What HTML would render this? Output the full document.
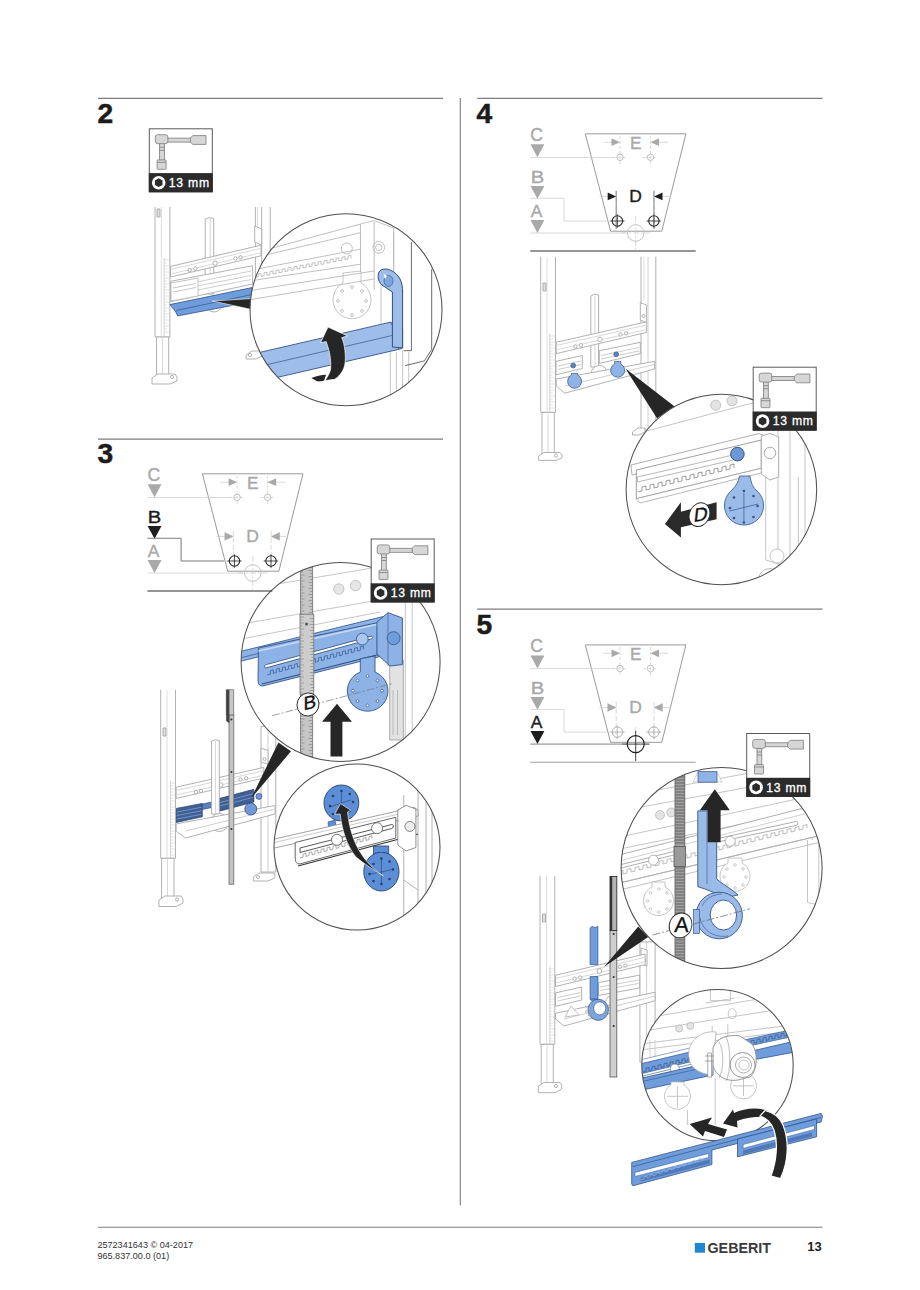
<!DOCTYPE html>
<html><head><meta charset="utf-8">
<style>
html,body{margin:0;padding:0;background:#fff;}
body{width:920px;height:1290px;overflow:hidden;position:relative;font-family:"Liberation Sans",sans-serif;}
svg{position:absolute;left:0;top:0;}
text{font-family:"Liberation Sans",sans-serif;}
</style></head><body>
<svg width="920" height="1290" viewBox="0 0 920 1290">
<defs>
  <!-- tool box 64x64 -->
  <g id="tool">
    <rect x="0.5" y="0.5" width="63" height="63" fill="#fff" stroke="#5a5a5a" stroke-width="1"/>
    <rect x="0" y="44.8" width="64" height="19.2" fill="#2b2b2b"/>
    <g fill="#d6d6d6" stroke="#7c7c7c" stroke-width="0.8">
      <rect x="10.8" y="15" width="4.8" height="17" />
      <path d="M10.8 19 h4.8 M10.8 22 h4.8" />
      <rect x="8.3" y="31.6" width="9" height="9.4" rx="0.8"/>
      <path d="M8.3 34 h9"/>
      <rect x="18.5" y="9.8" width="23.5" height="4" />
      <path d="M41.5 9.8 L44 7.3 L57.2 7.3 L57.2 16.1 L44 16.1 L41.5 13.8 Z"/>
      <rect x="6.5" y="6.4" width="12.6" height="9" rx="2.4"/>
    </g>
    <circle cx="9.9" cy="54.4" r="6.8" fill="#fff"/>
    <path d="M9.9 50 L13.7 52.2 L13.7 56.6 L9.9 58.8 L6.1 56.6 L6.1 52.2 Z" fill="#2b2b2b"/>
    <text x="20" y="58.6" font-size="12.2" fill="#fff" stroke="#fff" stroke-width="0.3" letter-spacing="0.75">13 mm</text>
  </g>
  <!-- dimension diagram, origin at trapezoid top-left -->
  <g id="diag">
    <path d="M0 0 L100.6 0 L76.5 97.4 L25.3 97.4 Z" fill="none" stroke="#9a9a9a" stroke-width="1"/>
    <g stroke="#cfcfcf" stroke-width="0.8" fill="none">
      <line x1="-55" y1="23.7" x2="30" y2="23.7"/>
      <line x1="-55" y1="99.2" x2="40" y2="99.2"/>
      <path d="M-55 64.5 L-21.3 64.5 L-21.3 87.2 L21.7 87.2"/>
      <line x1="34.7" y1="2" x2="34.7" y2="32" stroke-dasharray="3 2"/>
      <line x1="65.2" y1="2" x2="65.2" y2="32" stroke-dasharray="3 2"/>
      <line x1="30.9" y1="57" x2="30.9" y2="95" stroke-dasharray="5 2"/>
      <line x1="68.7" y1="57" x2="68.7" y2="95" stroke-dasharray="5 2"/>
      <line x1="50.4" y1="82" x2="50.4" y2="117" stroke-dasharray="6 2 2 2"/>
      <line x1="36" y1="99.2" x2="65" y2="99.2" stroke-dasharray="6 2 2 2"/>
      <line x1="27" y1="23.7" x2="42" y2="23.7" stroke-dasharray="3 2"/>
      <line x1="58" y1="23.7" x2="73" y2="23.7" stroke-dasharray="3 2"/>
      <line x1="24" y1="87.2" x2="40" y2="87.2" stroke-dasharray="4 2"/>
      <line x1="60" y1="87.2" x2="77" y2="87.2" stroke-dasharray="4 2"/>
      <line x1="17.9" y1="8.4" x2="30" y2="8.4"/>
      <line x1="70" y1="8.4" x2="82.6" y2="8.4"/>
      <line x1="14" y1="62.6" x2="26" y2="62.6"/>
      <line x1="74" y1="62.6" x2="86" y2="62.6"/>
    </g>
    <g fill="none" stroke="#b5b5b5" stroke-width="0.9">
      <circle cx="34.7" cy="23.5" r="3.2"/>
      <circle cx="65.2" cy="23.5" r="3.2"/>
    </g>
    <g fill="#a9a9a9">
      <path d="M34.7 8.4 L26.2 4.5 L26.2 12.3 Z"/>
      <path d="M65.2 8.4 L73.7 4.5 L73.7 12.3 Z"/>
      <text x="44.6" y="14.9" font-size="17.2" stroke="#a9a9a9" stroke-width="0.4">E</text>
      <text x="-55" y="7.0" font-size="17.6" stroke="#a9a9a9" stroke-width="0.4">C</text>
      <path d="M-54.8 10.5 L-40.9 10.5 L-47.85 23.5 Z"/>
    </g>
  </g>
  <g id="dGray" fill="#a9a9a9" stroke="#a9a9a9" stroke-width="0.4">
    <path d="M30.9 62.6 L22.4 58.7 L22.4 66.5 Z"/>
    <path d="M68.7 62.6 L77.2 58.7 L77.2 66.5 Z"/>
    <text x="43.9" y="67.9" font-size="17.4" stroke-width="0.4">D</text>
  </g>
  <g id="dBlack" fill="#1e1e1e" stroke="#1e1e1e" stroke-width="0">
    <path d="M30.9 62.6 L22.4 58.7 L22.4 66.5 Z"/>
    <path d="M68.7 62.6 L77.2 58.7 L77.2 66.5 Z"/>
    <text x="43.9" y="67.9" font-size="17.4" stroke-width="0.4">D</text>
  </g>
  <g id="bGray" fill="#a9a9a9" stroke="#a9a9a9" stroke-width="0">
    <text transform="translate(-54.6 48.9) scale(1.16 1)" font-size="17.4" stroke-width="0.4">B</text>
    <path d="M-54.8 52.2 L-40.9 52.2 L-47.85 64.9 Z"/>
  </g>
  <g id="bBlack" fill="#1e1e1e" stroke="#1e1e1e" stroke-width="0">
    <text transform="translate(-54.6 48.9) scale(1.16 1)" font-size="17.4" stroke-width="0.4">B</text>
    <path d="M-54.8 52.2 L-40.9 52.2 L-47.85 64.9 Z"/>
  </g>
  <g id="aGray" fill="#a9a9a9" stroke="#a9a9a9" stroke-width="0">
    <text x="-54.6" y="83.5" font-size="17.4" stroke-width="0.4">A</text>
    <path d="M-54.8 86.2 L-40.9 86.2 L-47.85 99.2 Z"/>
  </g>
  <g id="aBlack" fill="#1e1e1e" stroke="#1e1e1e" stroke-width="0">
    <text x="-54.6" y="83.5" font-size="17.4" stroke-width="0.4">A</text>
    <path d="M-54.8 86.2 L-40.9 86.2 L-47.85 99.2 Z"/>
  </g>
  <g id="holesDark" fill="none" stroke="#2a2a2a" stroke-width="1.1">
    <circle cx="32.1" cy="87.2" r="5.2"/>
    <circle cx="68.6" cy="87.2" r="5.2"/>
    <path d="M25 87.2 H39 M32.1 80.5 V94 M61.5 87.2 H75.5 M68.6 80.5 V94" stroke-width="0.8"/>
  </g>
  <g id="holesGray" fill="none" stroke="#b0b0b0" stroke-width="1">
    <circle cx="32.1" cy="87.2" r="5.2"/>
    <circle cx="68.6" cy="87.2" r="5.2"/>
    <path d="M25 87.2 H39 M32.1 80.5 V94 M61.5 87.2 H75.5 M68.6 80.5 V94" stroke-width="0.7"/>
  </g>
  <g id="bigGray" fill="none" stroke="#c4c4c4" stroke-width="1">
    <circle cx="50.4" cy="99.2" r="8.3"/>
  </g>
  <g id="bigDark" fill="none" stroke="#1e1e1e" stroke-width="1.2">
    <circle cx="50.4" cy="99.2" r="8.5"/>
    <path d="M50.4 86 V116 M37 99.2 H64" stroke-width="0.8"/>
  </g>
  <g id="tri"><path d="M-54.8 0 L-40.9 0 L-47.85 13 Z"/></g>
</defs>


<!-- ===== SECTION 2 illustration ===== -->
<g id="s2frame" fill="#fff" stroke="#a9a9a9" stroke-width="0.9" stroke-linejoin="round">
  <!-- right post (behind) -->
  <path d="M255.4 207 V300 M261.7 207 V300 M270.2 207 V300" />
  <path d="M257.5 207 V226" stroke="#d4d4d4"/>
  <path d="M254.7 226 L261.7 229 V245 L254.7 242 Z"/>
  <!-- middle post -->
  <path d="M205.2 219 L209 217.7 L213.7 218.5 V294 H205.2 Z"/>
  <path d="M210.2 219 V292" stroke="#d0d0d0"/>
  <!-- upper crossbar -->
  <path d="M170.6 266.4 L261 245.2 L261 255.8 L170.6 277 Z"/>
  <path d="M170.6 269.5 L261 248.3 M170.6 274 L261 252.8" stroke="#d4d4d4"/>
  <circle cx="189.7" cy="270" r="1.7"/><circle cx="195.3" cy="268.6" r="1.7"/>
  <circle cx="235.6" cy="258.5" r="1.7"/><circle cx="240.6" cy="257.3" r="1.7"/>
  <circle cx="215.1" cy="263.2" r="2.2"/>
  <!-- lower rail -->
  <path d="M170.6 281.3 L252.6 265.7 L252.6 284 L170.6 301.7 Z"/>
  <path d="M172 287 L251 271 M172 291 L251 275.5 M172 295 L251 279.5" stroke="#c8c8c8"/>
  <path d="M171 283 L198 278 V296 L171 301 Z" stroke="#bdbdbd"/>
  <path d="M173 288 L196 283.5 M173 292 L196 287.5" stroke="#9e9e9e" stroke-width="0.6"/>
  <!-- roller wheel -->
  <circle cx="214" cy="304" r="8"/>
  <!-- left post upper -->
  <path d="M155 207 V337 H169.9 V207"/>
  <path d="M161.4 207 V337" stroke="#dadada"/>
  <path d="M157 209 h3 v8 h-3 z" stroke="#a8a8a8" fill="#ddd"/>
  <path d="M164.2 258 V336" stroke="#cfcfcf"/>
  <path d="M164.2 260 h5 M164.2 263 h3 M164.2 266 h5 M164.2 269 h3 M164.2 272 h5 M164.2 275 h3 M164.2 278 h5 M164.2 281 h3 M164.2 284 h5 M164.2 287 h3 M164.2 290 h5 M164.2 293 h3 M164.2 296 h5 M164.2 299 h3 M164.2 302 h5 M164.2 305 h3 M164.2 308 h5 M164.2 311 h3 M164.2 314 h5 M164.2 317 h3 M164.2 320 h5 M164.2 323 h3 M164.2 326 h5 M164.2 329 h3 M164.2 332 h5" stroke="#c4c4c4" stroke-width="0.5"/>
  <!-- lower leg -->
  <path d="M156.5 337 H168.7 V376 H156.5 Z"/>
  <path d="M162.5 337 V376" stroke="#d4d4d4"/>
  <!-- foot -->
  <path d="M152 378 L158 374 L175 374 L177 377 L177 381 L170 384 L152 384 Z"/>
  <circle cx="172" cy="377" r="1.6"/>
  <!-- right foot -->
  <path d="M246 355 L252 351 L262 351 L262 356 L256 359 L246 359 Z"/>
  <circle cx="250" cy="355" r="1.6"/>
</g>
<!-- blue bar s2 -->
<path d="M169.9 304.6 L251.9 287.6 L251.9 301.7 L177.7 315.9 L175.6 311.6 Z" fill="#6f9ddc" stroke="#34548a" stroke-width="0.8"/>
<path d="M177.7 310.2 L251.9 294.5" stroke="#34548a" stroke-width="0.7"/>
<path d="M177.7 310.2 L175.6 311.6" stroke="#34548a" stroke-width="0.7"/>
<!-- wedge -->
<path d="M212.3 301 L251.9 298.6 L251.9 309.5 Z" fill="#262626" stroke="#fff" stroke-width="0.6"/>

<!-- circle s2 -->
<clipPath id="c2"><circle cx="346" cy="309.7" r="96"/></clipPath>
<circle cx="346" cy="309.7" r="96" fill="#fff"/>
<g clip-path="url(#c2)">
  <g fill="none" stroke="#b0b0b0" stroke-width="0.8">
    <path d="M262 250.8 L362.8 223.4 L374.2 220.6 L393.7 228 V272 M255 257.5 L360.5 232.7 M250 270.4 L360.5 249.1 M250 280.9 L360.5 264.2 M250 290.6 L374 271 M250 299.7 L374 279"/>
    
    
    
    <path d="M255 277.6 l3 -0.6 v-3 l3 -0.6 v3 l3 -0.6 v-3 l3 -0.6 v3 l3 -0.6 v-3 l3 -0.6 v3 l3 -0.6 v-3 l3 -0.6 v3 l3 -0.6 v-3 l3 -0.6 v3 l3 -0.6 v-3 l3 -0.6 v3 l3 -0.6 v-3 l3 -0.6 v3 l3 -0.6 v-3 l3 -0.6 v3 l3 -0.6 v-3 l3 -0.6 v3 l3 -0.6 v-3 l3 -0.6 v3 l3 -0.6 v-3 l3 -0.6 v3 l3 -0.6 v-3 l3 -0.6 v3 l3 -0.6 v-3 l3 -0.6 v3 l3 -0.6 v-3 l3 -0.6 v3 l3 -0.6 v-3 l3 -0.6 v3 l3 -0.6 v-3 l3 -0.6 v3"/>
    <path d="M360.5 224 V272 M374.2 222 V290"/>
    <circle cx="346.8" cy="248.5" r="5.5"/><circle cx="378.8" cy="247.4" r="5.8"/><circle cx="378.8" cy="247.4" r="3.2"/>
    <path d="M381 272 V352 M393.7 232.5 V270 M390.3 352 V405 M396.4 352 V400 M402.6 350 V398 M408.7 352 V395" stroke="#b8b8b8"/>
    <path d="M411.4 242.2 V350.7 H403.9 M431.7 269.3 V349.4 L424.3 360.9 L405.3 365.6" stroke="#5a5a5a" stroke-width="0.9"/>
    
    <!-- rosette disc -->
    <path d="M343 273 L361 271 L361 283 A19 19 0 1 1 343 283 Z" stroke="#b8b8b8"/>
    <g stroke="#bdbdbd" stroke-width="0.9">
      <circle cx="352" cy="287" r="1.4"/><circle cx="362" cy="291" r="1.4"/><circle cx="366" cy="301" r="1.4"/><circle cx="362" cy="311" r="1.4"/>
      <circle cx="352" cy="315" r="1.4"/><circle cx="342" cy="311" r="1.4"/><circle cx="338" cy="301" r="1.4"/><circle cx="342" cy="291" r="1.4"/>
    </g>
  </g>
  
  <!-- blue bar in circle -->
  <path d="M240 357 L390.3 322.2 L402.6 329 L402.6 348 L398.5 349.4 L240 386 Z" fill="#9ebde9" stroke="#34548a" stroke-width="0.9"/>
  <path d="M240 371 L398.5 334 L398.5 349.4 M390.3 322.2 L398.5 334 L402.6 329" fill="none" stroke="#34548a" stroke-width="0.7"/>
  <!-- blue handle -->
  <path d="M392.4 347 V292 L382 285 C377 281 377 272 381 270 C386 267 396 271 400 279 C402 283 402.6 287 402.6 292 V348 Z" fill="#9ebde9" stroke="#2f4f7a" stroke-width="1"/>
  <ellipse cx="388.5" cy="281" rx="4.5" ry="5.5" fill="#7ea6dd" stroke="#3b5f92" stroke-width="0.7"/>
  <path d="M383.5 274 L387 276 L385 279 Z" fill="#fff"/>
  <!-- curved arrow -->
  <path d="M328 327.1 L347.6 335.9 L341.7 337.6 C345 345 346 356 345 363.7 C344 370 340 376 334.6 379.3 L324.8 380.6 C329 375 331 370 330.7 366.9 C331 360 330 352 326.1 341.5 L320.5 342.8 Z" fill="#262626" stroke="#fff" stroke-width="0.7"/>
  <path d="M311.4 378 C316 376 321 375 326.1 374.8 L324.1 380.6 C321 381.5 318 381.5 317 381.3 Z" fill="#262626"/>
</g>
<circle cx="346" cy="309.7" r="96" fill="none" stroke="#505050" stroke-width="1.05"/>


<!-- ===== SECTION 3 illustration ===== -->
<g fill="#fff" stroke="#a9a9a9" stroke-width="0.9" stroke-linejoin="round">
  <!-- right post -->
  <path d="M261 726.4 H275.8 V872 H261 Z"/>
  <path d="M268 726.4 V872" stroke="#c8c8c8"/>
  <path d="M261 748.3 L268 750.5 V764 L261 762 Z"/>
  <circle cx="264.5" cy="759" r="1.5"/>
  <path d="M253.4 877 L259 873 L274.8 873 V878 L268 881 L253.4 881 Z"/>
  <circle cx="258" cy="877" r="1.5"/>
  <!-- upper crossbar -->
  <path d="M176.2 787.2 L263.8 767.4 L263.8 778 L176.2 798.5 Z"/>
  <path d="M176.2 790.5 L263.8 770.7 M176.2 795 L263.8 775.2" stroke="#d4d4d4"/>
  <circle cx="196" cy="792.1" r="1.7"/><circle cx="200.9" cy="790.9" r="1.7"/><circle cx="240.5" cy="779.4" r="1.7"/><circle cx="246.1" cy="778.3" r="1.7"/><circle cx="220.7" cy="785" r="2.3"/>
</g>
<!-- blue rail s3 -->
<path d="M176.2 808.4 L202.3 803.4 L202.3 816.8 L176.2 822.5 Z" fill="#3f5f95" stroke="#24406b" stroke-width="0.7"/>
<path d="M202.3 804 L219.3 800.5 L219.3 806 L202.3 809.5 Z" fill="#5a80bf" stroke="#24406b" stroke-width="0.6"/>
<path d="M219.3 798.5 L253.9 789.3 L253.9 802 L219.3 811.2 Z" fill="#3f5f95" stroke="#24406b" stroke-width="0.7"/>
<path d="M177 812 L201.5 807.3 M177 815.5 L201.5 810.8 M177 819 L201.5 814.3 M220 802.5 L253 793.8 M220 806 L253 797.3" stroke="#97b6e3" stroke-width="0.6"/>
<circle cx="258.9" cy="796.4" r="3" fill="#6f98d6" stroke="#24406b" stroke-width="0.6"/>
<g fill="#fff" stroke="#a9a9a9" stroke-width="0.9" stroke-linejoin="round">
  <!-- middle post -->
  <path d="M211.5 741 L215.5 739.8 L219.3 740.5 V814 H211.5 Z"/>
  <path d="M215.5 741 V814" stroke="#d4d4d4"/>
  <!-- roller -->
  <circle cx="219.3" cy="822.5" r="9"/>
  <!-- tray -->
  <path d="M176.2 823.9 L275.1 805.5 L275.1 814 L185.4 838 L176.2 831 Z"/>
  <path d="M185.4 831 L275.1 809" stroke="#c8c8c8"/>
</g>
<circle cx="250.8" cy="809" r="6" fill="#6f98d6" stroke="#24406b" stroke-width="0.7"/>
<g fill="#fff" stroke="#a9a9a9" stroke-width="0.9" stroke-linejoin="round">
  <!-- left post -->
  <path d="M160.7 689.8 V858.3 H175.5 V689.8"/>
  <path d="M167 689.8 V858" stroke="#dadada"/>
  <path d="M163 728 h3 v8 h-3 z" stroke="#a8a8a8" fill="#ddd"/>
  <path d="M170.5 780.8 V858" stroke="#cfcfcf"/>
  <path d="M170.5 783 h5 M170.5 786 h3 M170.5 789 h5 M170.5 792 h3 M170.5 795 h5 M170.5 798 h3 M170.5 801 h5 M170.5 804 h3 M170.5 807 h5 M170.5 810 h3 M170.5 813 h5 M170.5 816 h3 M170.5 819 h5 M170.5 822 h3 M170.5 825 h5 M170.5 828 h3 M170.5 831 h5 M170.5 834 h3 M170.5 837 h5 M170.5 840 h3 M170.5 843 h5 M170.5 846 h3 M170.5 849 h5 M170.5 852 h3 M170.5 855 h5" stroke="#c4c4c4" stroke-width="0.5"/>
  <path d="M161.6 858.3 H174 V898 H161.6 Z"/>
  <path d="M167.5 858.3 V898" stroke="#d4d4d4"/>
  <path d="M158.9 900 L165 896 L181 896 L183 899 L183 903 L176 906.5 L158.9 906.5 Z"/>
  <circle cx="177" cy="899.5" r="1.6"/>
</g>
<!-- dark rod -->
<rect x="229" y="714.9" width="4.8" height="169.3" fill="#c4c4c4" stroke="#6a6a6a" stroke-width="0.8"/>
<rect x="226.2" y="689.8" width="7.6" height="25.1" fill="#c8c8c8" stroke="#555" stroke-width="0.6"/>
<path d="M226.2 689.8 H229.4 V723.3 L226.2 721 Z" fill="#444"/>
<circle cx="231.4" cy="719.5" r="1.1" fill="#333"/><circle cx="231.4" cy="772" r="1.1" fill="#333"/><circle cx="231.4" cy="829" r="1.1" fill="#333"/>
<!-- wedge -->
<path d="M251.1 798.5 L278.4 742.4 L291 751.3 Z" fill="#262626"/>

<!-- circle 3a -->
<clipPath id="c3a"><circle cx="340.6" cy="662" r="99.5"/></clipPath>
<circle cx="340.6" cy="662" r="99.5" fill="#fff"/>
<g clip-path="url(#c3a)">
  <g fill="none" stroke="#b8b8b8" stroke-width="0.8">
    <path d="M236 591 L372 568 M236 625 L380 599.8 M236 640 L380 612"/>
    <circle cx="338.8" cy="589" r="5.2" fill="#e6e6e6"/><circle cx="355.6" cy="585.5" r="5.2" fill="#e6e6e6"/>
    <path d="M405.3 602 V760 M412.2 600 V760"/>
    
  </g>
  <!-- blue bracket -->
  <path d="M389.7 660 H403.4 V740 H389.7 Z" fill="#e2e2e2" stroke="#9a9a9a" stroke-width="0.8"/>
  <path d="M393 690 V735 M397.5 690 V735" stroke="#aaa" stroke-width="0.7"/>
  <path d="M236 652.5 L382.8 616.6 L382.8 625.4 L236 662.5 Z" fill="#8db2e5" stroke="#34548a" stroke-width="0.8"/>
  <path d="M236 659 L382.8 622.5" stroke="#34548a" stroke-width="0.7"/>
  <path d="M258.5 648 L382.8 621.5 L386.7 654.8 L262 686.1 C259 686 258 683 258 680 Z" fill="#8db2e5" stroke="#34548a" stroke-width="0.9"/>
  <path d="M258.5 651 L381 623.5" stroke="#c6daf5" stroke-width="1.6"/>
  <path d="M266.4 664.6 L371 636.2 C373 636 373.5 638.5 371 639 L266.4 667.8 C264 668.2 264 665 266.4 664.6 Z" fill="#fff" stroke="#2d4a78" stroke-width="0.8"/>
  <path d="M267.4 675 l3 -0.8 v-3.5 l3 -0.8 v3.5 l3 -0.8 v-3.5 l3 -0.8 v3.5 l3 -0.8 v-3.5 l3 -0.8 v3.5 l3 -0.8 v-3.5 l3 -0.8 v3.5 l3 -0.8 v-3.5 l3 -0.8 v3.5 l3 -0.8 v-3.5 l3 -0.8 v3.5 l3 -0.8 v-3.5 l3 -0.8 v3.5 l3 -0.8 v-3.5 l3 -0.8 v3.5 l3 -0.8 v-3.5 l3 -0.8 v3.5 l3 -0.8 v-3.5 l3 -0.8 v3.5 l3 -0.8 v-3.5 l3 -0.8 v3.5 l3 -0.8 v-3.5 l3 -0.8 v3.5 l3 -0.8 v-3.5 l3 -0.8 v3.5 l3 -0.8 v-3.5 l3 -0.8 v3.5 l3 -0.8 v-3.5 l3 -0.8 v3.5 l3 -0.8 v-3.5 l3 -0.8 v3.5" fill="none" stroke="#34548a" stroke-width="0.7"/>
  <path d="M262 684 L386.7 652.5" stroke="#2d4a78" stroke-width="1"/>
  <path d="M376.9 622 L388 612.7 L402.4 618 L402.4 664.6 L390 666 L376.9 654 Z" fill="#8db2e5" stroke="#34548a" stroke-width="0.9"/>
  <path d="M388 612.7 V666" stroke="#34548a" stroke-width="0.6"/>
  <circle cx="393.6" cy="638.2" r="6.5" fill="#6f9ddc" stroke="#34548a" stroke-width="0.8"/>
  <circle cx="362.3" cy="639.1" r="5.9" fill="#a9c7ef" stroke="#34548a" stroke-width="0.8"/>
  <!-- rosette -->
  <path d="M360.3 658.7 L375 656 L375 672 A20.3 20.3 0 1 1 360.3 672 Z" fill="#8db2e5" stroke="#34548a" stroke-width="0.9"/>
  <g fill="#fff" stroke="#34548a" stroke-width="0.7">
    <circle cx="367.5" cy="676" r="1.4"/><circle cx="377.5" cy="680.5" r="1.4"/><circle cx="382" cy="690.7" r="1.4"/><circle cx="377.5" cy="701" r="1.4"/>
    <circle cx="367.5" cy="705.5" r="1.4"/><circle cx="357.5" cy="701" r="1.4"/><circle cx="353" cy="690.7" r="1.4"/><circle cx="357.5" cy="680.5" r="1.4"/>
  </g>
  <!-- threaded rod -->
  <rect x="300.5" y="560" width="12.2" height="200" fill="#c6c6c6" stroke="#707070" stroke-width="0.8"/>
  <path d="M300.5 563 h4 M300.5 566 h2.5 M300.5 569 h4 M300.5 572 h2.5 M300.5 575 h4 M300.5 578 h2.5 M300.5 581 h4 M300.5 584 h2.5 M300.5 587 h4 M300.5 590 h2.5 M300.5 593 h4 M300.5 596 h2.5 M300.5 599 h4 M300.5 602 h2.5 M300.5 605 h4 M300.5 608 h2.5 M300.5 611 h4 M300.5 614 h2.5 M300.5 617 h4 M300.5 620 h2.5 M300.5 623 h4 M300.5 626 h2.5 M300.5 629 h4 M300.5 632 h2.5 M300.5 635 h4 M300.5 638 h2.5 M300.5 641 h4 M300.5 644 h2.5 M300.5 647 h4 M300.5 650 h2.5 M300.5 653 h4 M300.5 656 h2.5 M300.5 659 h4 M300.5 662 h2.5 M300.5 665 h4 M300.5 668 h2.5 M300.5 671 h4 M300.5 674 h2.5 M300.5 677 h4 M300.5 680 h2.5 M300.5 683 h4 M300.5 686 h2.5 M300.5 689 h4 M300.5 692 h2.5 M300.5 695 h4 M300.5 698 h2.5 M300.5 701 h4 M300.5 704 h2.5 M300.5 707 h4 M300.5 710 h2.5 M300.5 713 h4 M300.5 716 h2.5 M300.5 719 h4 M300.5 722 h2.5 M300.5 725 h4 M300.5 728 h2.5 M300.5 731 h4 M300.5 734 h2.5 M300.5 737 h4 M300.5 740 h2.5 M300.5 743 h4 M300.5 746 h2.5 M300.5 749 h4 M300.5 752 h2.5 M300.5 755 h4 M300.5 758 h2.5 M312.7 564.5 h-4 M312.7 567.5 h-2.5 M312.7 570.5 h-4 M312.7 573.5 h-2.5 M312.7 576.5 h-4 M312.7 579.5 h-2.5 M312.7 582.5 h-4 M312.7 585.5 h-2.5 M312.7 588.5 h-4 M312.7 591.5 h-2.5 M312.7 594.5 h-4 M312.7 597.5 h-2.5 M312.7 600.5 h-4 M312.7 603.5 h-2.5 M312.7 606.5 h-4 M312.7 609.5 h-2.5 M312.7 612.5 h-4 M312.7 615.5 h-2.5 M312.7 618.5 h-4 M312.7 621.5 h-2.5 M312.7 624.5 h-4 M312.7 627.5 h-2.5 M312.7 630.5 h-4 M312.7 633.5 h-2.5 M312.7 636.5 h-4 M312.7 639.5 h-2.5 M312.7 642.5 h-4 M312.7 645.5 h-2.5 M312.7 648.5 h-4 M312.7 651.5 h-2.5 M312.7 654.5 h-4 M312.7 657.5 h-2.5 M312.7 660.5 h-4 M312.7 663.5 h-2.5 M312.7 666.5 h-4 M312.7 669.5 h-2.5 M312.7 672.5 h-4 M312.7 675.5 h-2.5 M312.7 678.5 h-4 M312.7 681.5 h-2.5 M312.7 684.5 h-4 M312.7 687.5 h-2.5 M312.7 690.5 h-4 M312.7 693.5 h-2.5 M312.7 696.5 h-4 M312.7 699.5 h-2.5 M312.7 702.5 h-4 M312.7 705.5 h-2.5 M312.7 708.5 h-4 M312.7 711.5 h-2.5 M312.7 714.5 h-4 M312.7 717.5 h-2.5 M312.7 720.5 h-4 M312.7 723.5 h-2.5 M312.7 726.5 h-4 M312.7 729.5 h-2.5 M312.7 732.5 h-4 M312.7 735.5 h-2.5 M312.7 738.5 h-4 M312.7 741.5 h-2.5 M312.7 744.5 h-4 M312.7 747.5 h-2.5 M312.7 750.5 h-4 M312.7 753.5 h-2.5 M312.7 756.5 h-4 M312.7 759.5 h-2.5" stroke="#777" stroke-width="0.6"/>
  <rect x="300" y="614.2" width="13.8" height="80" fill="#cdcdcd" stroke="#707070" stroke-width="0.8"/>
  <path d="M300 617 h4 M300 620 h2.5 M300 623 h4 M300 626 h2.5 M300 629 h4 M300 632 h2.5 M300 635 h4 M300 638 h2.5 M300 641 h4 M300 644 h2.5 M300 647 h4 M300 650 h2.5 M300 653 h4 M300 656 h2.5 M300 659 h4 M300 662 h2.5 M300 665 h4 M300 668 h2.5 M300 671 h4 M300 674 h2.5 M300 677 h4 M300 680 h2.5 M300 683 h4 M300 686 h2.5 M300 689 h4 M300 692 h2.5 M313.8 618.5 h-4 M313.8 621.5 h-2.5 M313.8 624.5 h-4 M313.8 627.5 h-2.5 M313.8 630.5 h-4 M313.8 633.5 h-2.5 M313.8 636.5 h-4 M313.8 639.5 h-2.5 M313.8 642.5 h-4 M313.8 645.5 h-2.5 M313.8 648.5 h-4 M313.8 651.5 h-2.5 M313.8 654.5 h-4 M313.8 657.5 h-2.5 M313.8 660.5 h-4 M313.8 663.5 h-2.5 M313.8 666.5 h-4 M313.8 669.5 h-2.5 M313.8 672.5 h-4 M313.8 675.5 h-2.5 M313.8 678.5 h-4 M313.8 681.5 h-2.5 M313.8 684.5 h-4 M313.8 687.5 h-2.5 M313.8 690.5 h-4 M313.8 693.5 h-2.5" stroke="#808080" stroke-width="0.6"/>
  <circle cx="306.5" cy="624" r="1.5" fill="#555"/>
  <!-- dash-dot -->
  <path d="M271.9 715.8 L392.7 683.5" stroke="#777" stroke-width="0.7" stroke-dasharray="8 2 2 2" fill="none"/>
  <!-- up arrow -->
  <path d="M330.5 756.5 V721.8 H322 L337 703.8 L352 721.8 H342.4 V756.5 Z" fill="#262626"/>
</g>
<circle cx="340.6" cy="662" r="99.5" fill="none" stroke="#505050" stroke-width="1.05"/>
<ellipse cx="308" cy="704.5" rx="10.9" ry="11.6" transform="rotate(20 308 704.5)" fill="#fff" stroke="#2a2a2a" stroke-width="0.9"/>
<text transform="translate(303.6 710.5) skewY(-14)" font-size="19" fill="#111" stroke="#111" stroke-width="0.35">B</text>

<!-- circle 3b -->
<clipPath id="c3b"><circle cx="357" cy="847" r="83"/></clipPath>
<circle cx="357" cy="847" r="83" fill="#fff"/>
<g clip-path="url(#c3b)">
  <g fill="none" stroke="#a9a9a9" stroke-width="0.9">
    <path d="M403.8 795 V920 M418 790 V930 M426 790 V930 M432 790 V930"/>
    <path d="M403.8 880 L418 890" />
    
  </g>
  <!-- blue discs -->
  <path d="M328 822 L335 820 L336 826.4 L328.5 826.4 Z" fill="#5b8ed6" stroke="#2f5590" stroke-width="0.7"/>
  <ellipse cx="341.4" cy="803" rx="17.4" ry="18" fill="#5b8ed6" stroke="#24426e" stroke-width="0.9"/>
  <path d="M373.5 846 L388.7 846 L388.7 856 L373.5 856 Z" fill="#5b8ed6" stroke="#24426e" stroke-width="0.8"/>
  <ellipse cx="381.4" cy="871.6" rx="17.6" ry="19.4" fill="#5b8ed6" stroke="#24426e" stroke-width="0.9"/>
  <path d="M374 847 H388 V852 H374 Z" fill="#5b8ed6"/>
  <g fill="#2a3f66">
    <circle cx="341.4" cy="791" r="1.3"/><circle cx="349.8" cy="794" r="1.3"/><circle cx="353" cy="802" r="1.3"/><circle cx="349.8" cy="811" r="1.3"/><circle cx="333" cy="796" r="1.3"/><circle cx="330" cy="806" r="1.3"/><circle cx="333" cy="814" r="1.3"/>
    <circle cx="381.4" cy="858.5" r="1.3"/><circle cx="389.5" cy="861.5" r="1.3"/><circle cx="393" cy="869.5" r="1.3"/><circle cx="389.5" cy="879" r="1.3"/><circle cx="381.4" cy="884" r="1.3"/><circle cx="373.5" cy="881" r="1.3"/><circle cx="369.5" cy="874" r="1.3"/><circle cx="373.5" cy="864" r="1.3"/>
  </g>
  <path d="M341.4 792 V803 L351 800 M341.4 803 L330 807 M381.4 859 V884 M381.4 872 L392 869.5 M381.4 872 L370 874" stroke="#2a3f66" stroke-width="0.6" fill="none"/>
  <!-- rail -->
  <path d="M270 840 L413.9 807.3 L418 810 L418 816 L270 849 Z" fill="#fff" stroke="#8a8a8a" stroke-width="0.8"/>
  <path d="M272 843 L412 811" stroke="#aaa" stroke-width="0.6"/>
  <path d="M295.2 842.5 L395.8 817.3 L395.8 838 L300 863.9 C296 864 295.2 861 295.2 858 Z" fill="#fff" stroke="#555" stroke-width="0.9"/>
  <path d="M298 866 L418 834" stroke="#333" stroke-width="1.1"/>
  <path d="M300 848 L391.4 824.6 C394 824 394 828 391.4 828.6 L300 852.5 Z" fill="#fff" stroke="#444" stroke-width="0.9"/>
  <path d="M300 858 l3 -0.8 v-3 l3 -0.8 v3 l3 -0.8 v-3 l3 -0.8 v3 l3 -0.8 v-3 l3 -0.8 v3 l3 -0.8 v-3 l3 -0.8 v3 l3 -0.8 v-3 l3 -0.8 v3 l3 -0.8 v-3 l3 -0.8 v3 l3 -0.8 v-3 l3 -0.8 v3 l3 -0.8 v-3 l3 -0.8 v3 l3 -0.8 v-3 l3 -0.8 v3 l3 -0.8 v-3 l3 -0.8 v3 l3 -0.8 v-3 l3 -0.8 v3 l3 -0.8 v-3 l3 -0.8 v3" fill="none" stroke="#777" stroke-width="0.6"/>
  <path d="M397.8 810 L406 805.3 L415.9 809 L415.9 847.5 L406 851 L397.8 845 Z" fill="#fff" stroke="#777" stroke-width="0.8"/>
  <circle cx="409.9" cy="826.4" r="5" fill="#eee" stroke="#666" stroke-width="0.8"/>
  <circle cx="337" cy="839.8" r="5.5" fill="#fff" stroke="#555" stroke-width="0.8"/>
  <circle cx="377.1" cy="828.2" r="5.5" fill="#fff" stroke="#555" stroke-width="0.8"/>
  <!-- curved arrow -->
  <path d="M340.5 803.6 L350.8 810.3 L347.5 812 C349 826 353 842 362 855 C368 864 376 871 383.3 875.9 C374 870 364 864 356 857 C347 846 342 830 340.2 814 L334.7 814.3 Z" fill="#262626" stroke="#fff" stroke-width="0.6"/>
</g>
<circle cx="357" cy="847" r="83" fill="none" stroke="#505050" stroke-width="1.05"/>


<!-- ===== SECTION 4 illustration ===== -->
<g fill="#fff" stroke="#a9a9a9" stroke-width="0.9" stroke-linejoin="round">
  <!-- right post -->
  <path d="M641 256.8 V430 H655.8 V256.8"/>
  <path d="M648 256.8 V430" stroke="#c8c8c8"/>
  <path d="M644 256.8 V300" stroke="#d8d8d8"/>
  <path d="M640.3 302.7 L646.6 305 V322.5 L640.3 320 Z"/>
  <circle cx="643.5" cy="316" r="1.5"/>
  <path d="M632.5 432 L638 428 L645 428 V432 L639 435 L632.5 435 Z"/>
  <!-- middle post -->
  <path d="M590.8 296 L594.5 294.2 L598.6 295 V367 H590.8 Z"/>
  <path d="M595 296 V367" stroke="#d4d4d4"/>
  <!-- crossbar -->
  <path d="M556.2 342.3 L646.6 321.8 L646.6 332.4 L556.2 353.6 Z"/>
  <path d="M556.2 345.5 L646.6 325 M556.2 350 L646.6 329.5" stroke="#d4d4d4"/>
  <circle cx="575.3" cy="346.5" r="1.7"/><circle cx="580.9" cy="345.2" r="1.7"/><circle cx="620.5" cy="334.5" r="1.7"/><circle cx="626.1" cy="333.3" r="1.7"/><circle cx="600" cy="339.5" r="2.3"/>
  <!-- rails -->
  <path d="M556 361.4 L582.3 355.5 L582.3 368.5 L556 374.8 Z"/>
  <path d="M558 366 L581 361 M558 369.5 L581 364.5" stroke="#aaa" stroke-width="0.6"/>
  <path d="M599.3 350.8 L640.3 342.3 L640.3 353.6 L599.3 363.5 Z"/>
  <path d="M601 355.5 L639 347.5 M601 359 L639 351" stroke="#aaa" stroke-width="0.6"/>
  <circle cx="599.3" cy="373.4" r="8"/>
  <!-- tray -->
  <path d="M556.2 379 L654.4 361.4 L654.4 369.1 L564.7 393.2 L556.2 386 Z"/>
  <path d="M564.7 386 L654.4 364.5" stroke="#c8c8c8"/>
  <!-- left post -->
  <path d="M540.7 256.8 V412.4 H555.5 V256.8"/>
  <path d="M547 256.8 V412" stroke="#dadada"/>
  <path d="M543 283 h3 v8 h-3 z" stroke="#a8a8a8" fill="#ddd"/>
  <path d="M549.8 333.8 V412" stroke="#cfcfcf"/>
  <path d="M549.8 336 h5 M549.8 339 h3 M549.8 342 h5 M549.8 345 h3 M549.8 348 h5 M549.8 351 h3 M549.8 354 h5 M549.8 357 h3 M549.8 360 h5 M549.8 363 h3 M549.8 366 h5 M549.8 369 h3 M549.8 372 h5 M549.8 375 h3 M549.8 378 h5 M549.8 381 h3 M549.8 384 h5 M549.8 387 h3 M549.8 390 h5 M549.8 393 h3 M549.8 396 h5 M549.8 399 h3 M549.8 402 h5 M549.8 405 h3 M549.8 408 h5" stroke="#c4c4c4" stroke-width="0.5"/>
  <path d="M542 412.4 H554.3 V454 H542 Z"/>
  <path d="M548 412.4 V454" stroke="#d4d4d4"/>
  <path d="M538.6 456 L544 452.5 L560 452.5 L562 455 L562 458 L556 460.4 L538.6 460.4 Z"/>
  <circle cx="556" cy="455.5" r="1.6"/>
</g>
<!-- blue discs s4 -->
<g fill="#8fb3e6" stroke="#34548a" stroke-width="0.7">
  <path d="M571.5 373.4 H577.7 V375 A7 7 0 1 1 571.5 375 Z"/>
  <path d="M614.6 361.4 H620.8 V364 A7 7 0 1 1 614.6 364 Z"/>
  <circle cx="573.2" cy="365.6" r="2.4" fill="#5b84c4"/>
  <circle cx="616.2" cy="354.3" r="2.4" fill="#5b84c4"/>
</g>
<!-- wedge -->
<path d="M625.4 368.4 L657 418.3 L674.6 406.6 Z" fill="#262626"/>

<!-- circle 4 -->
<clipPath id="c4"><circle cx="721.4" cy="489.5" r="95.3"/></clipPath>
<circle cx="721.4" cy="489.5" r="95.3" fill="#fff"/>
<g clip-path="url(#c4)">
  <g fill="none" stroke="#b8b8b8" stroke-width="0.8">
    <path d="M620 438 L760 401"/>
    <circle cx="715.7" cy="405.2" r="5" fill="#e4e4e4"/><circle cx="732" cy="400.9" r="5" fill="#e4e4e4"/>
    <path d="M765.7 477 V560 L798.3 570 V477 M778 430 V590 M790 430 V590 M805 430 V590" />
    <path d="M760 585 C755 575 765 565 775 570" stroke="#aaa"/>
    <circle cx="777" cy="556" r="7" fill="#fff"/>
  </g>
  <path d="M630.9 465 L759 433.5 L765 436 L765 444 L632 475 Z" fill="#fff" stroke="#999" stroke-width="0.8"/>
  <path d="M636.3 470 L761.3 440 L761.3 468.3 L636.3 498.7 Z" fill="#fff" stroke="#888" stroke-width="0.8"/>
  <path d="M637.4 477 L741.7 453 L741.7 458 L637.4 482 Z" fill="#fff" stroke="#999" stroke-width="0.7"/>
  <path d="M638 492 l4 -1 v-4 l4 -1 v4 l4 -1 v-4 l4 -1 v4 l4 -1 v-4 l4 -1 v4 l4 -1 v-4 l4 -1 v4 l4 -1 v-4 l4 -1 v4 l4 -1 v-4 l4 -1 v4 l4 -1 v-4 l4 -1 v4 l4 -1 v-4 l4 -1 v4 l4 -1 v-4 l4 -1 v4 l4 -1 v-4 l4 -1 v4 l4 -1 v-4 l4 -1 v4 l4 -1 v-4 l4 -1 v4" fill="none" stroke="#777" stroke-width="0.7"/>
  <path d="M636.3 498.7 L761.3 468.3 L765 472 L640 503 Z" fill="#fff" stroke="#999" stroke-width="0.7"/>
  <path d="M761.3 436 L770 433.5 L778.7 437 L778.7 477 L770 480 L761.3 474 Z" fill="#fff" stroke="#999" stroke-width="0.8"/>
  <circle cx="770" cy="453" r="5.8" fill="#fff" stroke="#999" stroke-width="0.8"/>
  <!-- blue bolt -->
  <circle cx="737.4" cy="454.1" r="6.8" fill="#6c98d6" stroke="#2a4a7a" stroke-width="0.9"/>
  <!-- rosette -->
  <path d="M739.5 476 L750 476 C751 482 752 486 756 490 A19.6 19.6 0 1 1 732 490 C736 486 738.5 482 739.5 476 Z" fill="#9bbce8" stroke="#34548a" stroke-width="0.8"/>
  <path d="M743.9 493 V522 M729.5 511 L758 504" stroke="#34548a" stroke-width="0.7"/>
  <g fill="#34548a">
    <circle cx="743.9" cy="491" r="1.3"/><circle cx="753.5" cy="496" r="1.3"/><circle cx="757.5" cy="506" r="1.3"/><circle cx="753.5" cy="517" r="1.3"/>
    <circle cx="743.9" cy="522.5" r="1.3"/><circle cx="734" cy="518" r="1.3"/><circle cx="730" cy="508" r="1.3"/><circle cx="734" cy="497.5" r="1.3"/>
  </g>
  <!-- left arrow -->
  <path d="M664.9 523.9 L680.9 502.2 L680.9 511.7 L716.6 502.2 L716.6 519.3 L680.9 527.3 L680.9 537.6 Z" fill="#2a2a2a"/>
</g>
<circle cx="721.4" cy="489.5" r="95.3" fill="none" stroke="#505050" stroke-width="1.05"/>
<ellipse cx="699.5" cy="514.7" rx="10" ry="12.2" transform="rotate(25 699.5 514.7)" fill="#fff" stroke="#2a2a2a" stroke-width="0.9"/>
<text transform="translate(693.2 522) skewY(-8) skewX(-7)" font-size="19" fill="#111" stroke="#111" stroke-width="0.35">D</text>


<!-- ===== SECTION 5 illustration ===== -->
<g fill="#fff" stroke="#a9a9a9" stroke-width="0.9" stroke-linejoin="round">
  <!-- right post -->
  <path d="M639.9 941.9 H655.1 V1062 H639.9 Z"/>
  <path d="M646.6 941.9 V1062" stroke="#c8c8c8"/>
  <path d="M641 948 L647 950 V966 L641 964 Z"/>
  <circle cx="644" cy="960" r="1.5"/>
  <!-- crossbar -->
  <path d="M555.5 975.2 L645.2 954 L645.2 964.6 L555.5 986.5 Z"/>
  <path d="M555.5 978.5 L645.2 957.3 M555.5 983 L645.2 961.8" stroke="#d4d4d4"/>
  <circle cx="574.6" cy="978.7" r="1.7"/><circle cx="580.2" cy="977.5" r="1.7"/><circle cx="619.8" cy="966.7" r="1.7"/><circle cx="625.4" cy="965.5" r="1.7"/><circle cx="599.3" cy="971" r="2.3"/>
  <!-- rails -->
  <path d="M555.5 992.9 L581.6 987 L581.6 1000 L555.5 1006.3 Z"/>
  <path d="M557.5 997.5 L580.5 992.5 M557.5 1001 L580.5 996" stroke="#aaa" stroke-width="0.6"/>
  <path d="M598.6 982.5 L639.6 975.2 L639.6 987.9 L598.6 995.5 Z"/>
  <path d="M600 987 L638.5 980 M600 990.5 L638.5 983.5" stroke="#aaa" stroke-width="0.6"/>
  <!-- tray -->
  <path d="M555.5 1013.4 L655.1 992.2 L655.1 1000.7 L564 1026 L555.5 1019 Z"/>
  <path d="M564 1019 L655.1 996" stroke="#c8c8c8"/>
  <path d="M565 1017 L571 1006 L579 1015 Z" stroke="#bbb"/>
  <path d="M602 1007 L608.5 996 L615 1004 Z" stroke="#bbb"/>
  <!-- left post -->
  <path d="M540 875.8 V1044.3 H554.8 V875.8"/>
  <path d="M546.5 875.8 V1044" stroke="#dadada"/>
  <path d="M542.5 914 h3 v8 h-3 z" stroke="#a8a8a8" fill="#ddd"/>
  <path d="M549.8 966.7 V1044" stroke="#cfcfcf"/>
  <path d="M549.8 969 h5 M549.8 972 h3 M549.8 975 h5 M549.8 978 h3 M549.8 981 h5 M549.8 984 h3 M549.8 987 h5 M549.8 990 h3 M549.8 993 h5 M549.8 996 h3 M549.8 999 h5 M549.8 1002 h3 M549.8 1005 h5 M549.8 1008 h3 M549.8 1011 h5 M549.8 1014 h3 M549.8 1017 h5 M549.8 1020 h3 M549.8 1023 h5 M549.8 1026 h3 M549.8 1029 h5 M549.8 1032 h3 M549.8 1035 h5 M549.8 1038 h3 M549.8 1041 h5" stroke="#c4c4c4" stroke-width="0.5"/>
  <path d="M541.2 1044.3 H553.3 V1084 H541.2 Z"/>
  <path d="M547 1044.3 V1084" stroke="#d4d4d4"/>
  <path d="M538.4 1086 L544 1082.5 L560 1082.5 L561.7 1085 L561.7 1089 L555 1092.7 L538.4 1092.7 Z"/>
  <circle cx="556" cy="1086" r="1.6"/>
</g>
<!-- blue strap frame -->
<path d="M590.1 928 L592 926.4 L595 927.5 L597.9 926.4 V964.6 H590.1 Z M590.1 976.6 H597.9 V999.2 H590.1 Z" fill="#6f9ddc" stroke="#34548a" stroke-width="0.7"/>
<path d="M590.1 999.2 H597.9 L603 1001.4 L594 1003 Z" fill="#6f9ddc" stroke="#34548a" stroke-width="0.6"/>
<ellipse cx="598.3" cy="1009.8" rx="10.2" ry="10.6" fill="#7ea6dd" stroke="#34548a" stroke-width="0.7"/>
<ellipse cx="599.7" cy="1008.4" rx="6" ry="6.4" fill="#fff" stroke="#34548a" stroke-width="0.6"/>
<path d="M585 1006 L589 1009 L585 1012 L590 1012 L588 1016 L592 1013" fill="none" stroke="#999" stroke-width="0.6"/>
<!-- dark rod -->
<rect x="610" y="930.7" width="6.8" height="146.3" fill="#d0d0d0" stroke="#555" stroke-width="0.8"/>
<rect x="610" y="876.5" width="6.8" height="54" fill="#b4b4b4" stroke="#333" stroke-width="0.9"/>
<rect x="610" y="876.5" width="2.2" height="54" fill="#333"/>
<circle cx="613.7" cy="934" r="1.1" fill="#333"/><circle cx="613.7" cy="977" r="1.1" fill="#333"/><circle cx="613.7" cy="1026" r="1.1" fill="#333"/>
<!-- wedge -->
<path d="M604.2 966.7 L638.3 926.4 L648.2 937 Z" fill="#262626"/>

<!-- circle 5a -->
<clipPath id="c5a"><circle cx="721.6" cy="868" r="100.5"/></clipPath>
<circle cx="721.6" cy="868" r="100.5" fill="#fff"/>
<g clip-path="url(#c5a)">
  <g fill="none" stroke="#b8b8b8" stroke-width="0.8">
    <path d="M615 798 L830 758 M615 812 L830 772 M615 838 L830 792 M615 850 L830 806"/>
    <circle cx="660" cy="815" r="4.5" fill="#e4e4e4"/><circle cx="671.3" cy="812.5" r="4.5" fill="#e4e4e4"/>
    <path d="M807.5 840 V902.5 L818.8 905 V838 M812 780 V840"/>
  </g>
  <path d="M693 782 L698 772 L717 772 L722 782 Z" fill="#fff" stroke="#bbb" stroke-width="0.7"/>
  <rect x="698" y="771.7" width="19" height="10.5" fill="#8fb3e6" stroke="#34548a" stroke-width="0.7"/>
  <!-- rail -->
  <path d="M615 856 L812 806 L818 809 L818 836 L615 884 Z" fill="#fff" stroke="#9a9a9a" stroke-width="0.8"/>
  <path d="M615 862 L812 812" stroke="#bdbdbd" stroke-width="0.7"/>
  <path d="M720 838 L796 821.5 C798.5 821 798.5 825 796 825.5 L720 841.5 C717.5 842 717.5 838.5 720 838 Z" fill="#fff" stroke="#999" stroke-width="0.8"/>
  <path d="M615 866 L680 850 C682 849.5 682 853 680 853.5 L615 869.5" fill="#fff" stroke="#999" stroke-width="0.8"/>
  <path d="M615 876 l4 -1 v-3.5 l4 -1 v3.5 l4 -1 v-3.5 l4 -1 v3.5 l4 -1 v-3.5 l4 -1 v3.5 l4 -1 v-3.5 l4 -1 v3.5 l4 -1 v-3.5 l4 -1 v3.5 l4 -1 v-3.5 l4 -1 v3.5 l4 -1 v-3.5 l4 -1 v3.5 l4 -1 v-3.5 l4 -1 v3.5 l4 -1 v-3.5 l4 -1 v3.5 l4 -1 v-3.5 l4 -1 v3.5 l4 -1 v-3.5 l4 -1 v3.5 l4 -1 v-3.5 l4 -1 v3.5 l4 -1 v-3.5 l4 -1 v3.5 l4 -1 v-3.5 l4 -1 v3.5 l4 -1 v-3.5 l4 -1 v3.5 l4 -1 v-3.5 l4 -1 v3.5 l4 -1 v-3.5 l4 -1 v3.5 l4 -1 v-3.5 l4 -1 v3.5 l4 -1 v-3.5 l4 -1 v3.5 l4 -1 v-3.5 l4 -1 v3.5 l4 -1 v-3.5 l4 -1 v3.5 l4 -1 v-3.5 l4 -1 v3.5 l4 -1 v-3.5 l4 -1 v3.5 l4 -1 v-3.5 l4 -1 v3.5" fill="none" stroke="#a0a0a0" stroke-width="0.7"/>
  <path d="M615 884 L818 836 M615 891 L825 841" stroke="#b0b0b0" stroke-width="0.8"/>
  <circle cx="653.4" cy="860.2" r="5" fill="#fff" stroke="#a0a0a0" stroke-width="0.8"/>
  <circle cx="730.2" cy="841.3" r="5" fill="#fff" stroke="#a0a0a0" stroke-width="0.8"/>
  <!-- gray rosettes -->
  <g fill="#fff" stroke="#b8b8b8" stroke-width="0.8">
    <path d="M652 882 H665 V887 A15 15 0 1 1 652 887 Z"/>
    <path d="M728 858 H742 V863 A15 15 0 1 1 728 863 Z"/>
  </g>
  <g fill="none" stroke="#c0c0c0" stroke-width="0.8">
    <circle cx="658.8" cy="889" r="1.3"/><circle cx="667" cy="893" r="1.3"/><circle cx="670" cy="901" r="1.3"/><circle cx="667" cy="909" r="1.3"/><circle cx="658.8" cy="912" r="1.3"/><circle cx="650.5" cy="909" r="1.3"/><circle cx="647.5" cy="901" r="1.3"/><circle cx="650.5" cy="893" r="1.3"/>
    <circle cx="735" cy="865" r="1.3"/><circle cx="743" cy="869" r="1.3"/><circle cx="746" cy="877" r="1.3"/><circle cx="743" cy="885" r="1.3"/><circle cx="735" cy="888" r="1.3"/><circle cx="727" cy="885" r="1.3"/><circle cx="724" cy="877" r="1.3"/><circle cx="727" cy="869" r="1.3"/>
  </g>
  <!-- threaded rod -->
  <rect x="675" y="770" width="9.8" height="200" fill="#a0a0a0" stroke="#555" stroke-width="0.8"/>
  <path d="M675.5 774 h9 M675.5 777 h9 M675.5 780 h9 M675.5 783 h9 M675.5 786 h9 M675.5 789 h9 M675.5 792 h9 M675.5 795 h9 M675.5 798 h9 M675.5 801 h9 M675.5 804 h9 M675.5 807 h9 M675.5 810 h9 M675.5 813 h9 M675.5 816 h9 M675.5 819 h9 M675.5 822 h9 M675.5 825 h9 M675.5 828 h9 M675.5 831 h9 M675.5 834 h9 M675.5 837 h9 M675.5 840 h9 M675.5 843 h9 M675.5 868 h9 M675.5 871 h9 M675.5 874 h9 M675.5 877 h9 M675.5 880 h9 M675.5 883 h9 M675.5 886 h9 M675.5 889 h9 M675.5 892 h9 M675.5 895 h9 M675.5 898 h9 M675.5 901 h9 M675.5 904 h9 M675.5 907 h9 M675.5 910 h9 M675.5 913 h9 M675.5 916 h9 M675.5 919 h9 M675.5 922 h9 M675.5 925 h9 M675.5 928 h9 M675.5 931 h9 M675.5 934 h9 M675.5 937 h9 M675.5 940 h9 M675.5 943 h9 M675.5 946 h9 M675.5 949 h9 M675.5 952 h9 M675.5 955 h9 M675.5 958 h9 M675.5 961 h9 M675.5 964 h9" stroke="#555" stroke-width="0.8"/>
  <rect x="674" y="846.6" width="11.5" height="20" fill="#9a9a9a" stroke="#555" stroke-width="0.8"/>
  <!-- blue strap -->
  <path d="M697.8 810.9 H716.7 V879 C722 884 732 889 738 895 L724 898 C716 893 706 889 697.8 886.7 Z" fill="#9abbe8" stroke="#34548a" stroke-width="0.9"/>
  <path d="M707 811 V884" stroke="#34548a" stroke-width="0.6"/>
  <!-- ring -->
  <ellipse cx="719.2" cy="915.5" rx="23.2" ry="23.3" fill="#9abbe8" stroke="#34548a" stroke-width="0.9"/>
  <ellipse cx="723.4" cy="915" rx="13.2" ry="15" fill="#fff" stroke="#34548a" stroke-width="0.9"/>
  <path d="M702 906 C706 898 714 894 722 894" fill="none" stroke="#34548a" stroke-width="0.6"/>
  <path d="M700 918 C703 932 716 938 728 936" fill="none" stroke="#34548a" stroke-width="0.6"/>
  <rect x="693.5" y="909.5" width="6" height="23.9" fill="#9abbe8" stroke="#34548a" stroke-width="0.7"/>
  <!-- dash -->
  <path d="M652.5 935 L750 908.75" stroke="#666" stroke-width="0.7" stroke-dasharray="8 2 2 2" fill="none"/>
  <!-- up arrow -->
  <path d="M707.6 842.2 V810.2 H699.8 L714.8 789.3 L729.8 810.2 H720.6 V842.2 Z" fill="#262626"/>
</g>
<circle cx="721.6" cy="868" r="100.5" fill="none" stroke="#505050" stroke-width="1.05"/>
<ellipse cx="680.6" cy="925.4" rx="11.2" ry="12.6" transform="rotate(25 680.6 925.4)" fill="#fff" stroke="#2a2a2a" stroke-width="0.9"/>
<text transform="translate(674 932.2) skewX(-4)" font-size="21.5" fill="#111" stroke="#111" stroke-width="0.3">A</text>

<!-- circle 5b -->
<clipPath id="c5b"><circle cx="717.5" cy="1065.2" r="75.7"/></clipPath>
<circle cx="717.5" cy="1065.2" r="75.7" fill="#fff"/>
<g clip-path="url(#c5b)">
  <g fill="none" stroke="#b8b8b8" stroke-width="0.8">
    <path d="M710.4 985 V1000.7 H730.4 V985 M706 1003 L735 998"/>
    <path d="M640 1019 L800 992 M640 1031.5 L800 1006 M640 1044 L800 1024 M640 1050 L800 1030"/>
    <circle cx="679.1" cy="1028.5" r="3.5" fill="#e4e4e4"/><circle cx="690.4" cy="1025.9" r="3.5" fill="#e4e4e4"/>
    <ellipse cx="732.2" cy="1013.7" rx="4" ry="5"/>
    <path d="M650 1040 V1070 M655 1040 V1068" stroke="#c8c8c8"/>
  </g>
  <!-- post segment -->
  <path d="M712.2 1026 V1046 M727.8 1024 V1042" fill="none" stroke="#b8b8b8" stroke-width="0.8"/>
  <!-- left blue bracket -->
  <path d="M640 1060 L693.9 1047 L697 1049 L697 1072 L640 1086 Z" fill="#fff" stroke="#7a8fb0" stroke-width="0.8"/>
  <path d="M640 1064 L693.9 1051 L693.9 1061 L640 1074 Z" fill="#6f9ddc" stroke="#34548a" stroke-width="0.7"/>
  <path d="M643 1072 l3 -0.75 v-3 l3 -0.75 v3 l3 -0.75 v-3 l3 -0.75 v3 l3 -0.75 v-3 l3 -0.75 v3 l3 -0.75 v-3 l3 -0.75 v3 l3 -0.75 v-3 l3 -0.75 v3 l3 -0.75 v-3 l3 -0.75 v3 l3 -0.75 v-3 l3 -0.75 v3 l3 -0.75 v-3 l3 -0.75 v3" fill="none" stroke="#2d4a78" stroke-width="0.6"/>
  <path d="M643 1076 L692 1064 C694 1063.5 694 1066.5 692 1067 L643 1079 Z" fill="#fff" stroke="#34548a" stroke-width="0.6"/>
  <circle cx="674.8" cy="1068.5" r="4.5" fill="#fff" stroke="#888" stroke-width="0.8"/>
  <path d="M640 1078.5 L713 1062 L713 1075 L640 1090.5 Z" fill="#6f9ddc" stroke="#34548a" stroke-width="0.8"/>
  <path d="M640 1082 L713 1065.5" stroke="#34548a" stroke-width="0.6"/>
  <!-- right blue rail -->
  <path d="M740.9 1040.7 L795 1029 L795 1036 L740.9 1047.6 Z" fill="#6f9ddc" stroke="#34548a" stroke-width="0.7"/>
  <path d="M742 1046 l3 -0.7 v-3 l3 -0.7 v3 l3 -0.7 v-3 l3 -0.7 v3 l3 -0.7 v-3 l3 -0.7 v3 l3 -0.7 v-3 l3 -0.7 v3 l3 -0.7 v-3 l3 -0.7 v3 l3 -0.7 v-3 l3 -0.7 v3 l3 -0.7 v-3 l3 -0.7 v3 l3 -0.7 v-3 l3 -0.7 v3" fill="none" stroke="#2d4a78" stroke-width="0.6"/>
  <path d="M744.3 1052.8 L795 1041 L795 1052 L744.3 1061.5 Z" fill="#6f9ddc" stroke="#34548a" stroke-width="0.8"/>
  <!-- gray rosettes -->
  <g fill="#fff" stroke="#b8b8b8" stroke-width="0.8">
    <path d="M671 1082 H684 V1085 A13 13 0 1 1 671 1085 Z"/>
    <circle cx="743.5" cy="1085.9" r="13"/>
    <path d="M677.4 1086 V1108 M667 1096.3 H688 M743.5 1076 V1096 M733 1085.9 H754"/>
  </g>
  <!-- fitting -->
  <path d="M716 1032 C700 1030 688 1042 688.7 1055 C689 1065 695 1073 712 1075 Z" fill="#fff" stroke="#b0b0b0" stroke-width="0.8"/>
  <path d="M713 1048 C716 1038 728 1034 740 1036 L752 1044 C758 1052 758 1070 750 1077 L738 1080 C726 1082 716 1076 713 1066 Z" fill="#fff" stroke="#8a8a8a" stroke-width="0.9"/>
  <path d="M719 1042 C724 1050 724 1070 719 1078 M726 1037 C731 1046 731 1072 726 1081" fill="none" stroke="#a0a0a0" stroke-width="0.7"/>
  <circle cx="742.6" cy="1065" r="12.5" fill="#fff" stroke="#8a8a8a" stroke-width="0.9"/>
  <circle cx="743.5" cy="1065" r="8" fill="#fff" stroke="#999" stroke-width="0.8"/>
  <circle cx="744" cy="1065" r="5" fill="#fff" stroke="#aaa" stroke-width="0.7"/>
  <rect x="707.8" y="1053" width="3.8" height="24" fill="#fff" stroke="#888" stroke-width="0.7"/>
  <path d="M705 1056 h9 M705 1061 h9" stroke="#888" stroke-width="0.7"/>
  <path d="M715.2 1078 V1125 M687.4 1110 V1125" stroke="#b8b8b8" stroke-width="0.8" fill="none"/>
  <!-- straight arrow -->
  <path d="M689.6 1124 L712 1117.5 L708 1124 L727 1129.5 L724 1137 L705 1131 L703 1136.5 Z" fill="#262626"/>
  <!-- curved arrow head part -->
  <path d="M723 1123.4 L733 1109.5 L734 1113 C745 1108 758 1107 768 1111 L775 1118 C765 1116 750 1116 737 1121 L737.5 1127.5 Z" fill="#262626"/>
</g>
<circle cx="717.5" cy="1065.2" r="75.7" fill="none" stroke="#505050" stroke-width="1.05"/>
<!-- bottom blue rails -->
<path d="M631.7 1162.4 L821.1 1113.4 L822.5 1116 L821.1 1122 L711.9 1150 L711.9 1164.6 L632.8 1185.8 L631.7 1184 Z" fill="#6f9ddc" stroke="#34548a" stroke-width="0.8"/>
<path d="M633 1166.5 L821 1117.5" stroke="#34548a" stroke-width="0.7"/>
<path d="M635 1172.4 L708.6 1153.5 L708.6 1157.5 L635 1176.4 Z" fill="#fff" stroke="#34548a" stroke-width="0.5"/>
<path d="M640.6 1177.5 L709.7 1159.5 L709.7 1163.5 L640.6 1181.5 Z" fill="#4f79b8"/>
<path d="M641 1180 l3 -1 v-2 l3 -1 v2 l3 -1 v-2 l3 -1 v2 l3 -1 v-2 l3 -1 v2 l3 -1 v-2 l3 -1 v2 l3 -1 v-2 l3 -1 v2 l3 -1 v-2 l3 -1 v2 l3 -1 v-2 l3 -1 v2 l3 -1 v-2 l3 -1 v2 l3 -1 v-2 l3 -1 v2 l3 -1 v-2 l3 -1 v2 l3 -1 v-2" fill="none" stroke="#9dbdea" stroke-width="0.6"/>
<path d="M737.5 1139 L816.6 1119 L816.6 1136.8 L737.5 1156.8 Z" fill="#6f9ddc" stroke="#34548a" stroke-width="0.8"/>
<path d="M743.1 1144.6 L814.4 1125.6 L814.4 1129.4 L743.1 1148.4 Z" fill="#fff" stroke="#34548a" stroke-width="0.5"/>
<path d="M743 1150.5 L812 1132.5 L812 1136.5 L743 1154.5 Z" fill="#4f79b8"/>
<!-- curved arrow body outside -->
<path d="M765 1110.5 C772 1112 779 1116 783 1125 C789 1140 789 1160 780.5 1178.5 L771 1176 C777 1160 778 1142 774 1130 C771 1122 766 1118 760 1116 Z" fill="#262626" stroke="#fff" stroke-width="1.2"/>

<!-- page rules -->
<g stroke="#7d7d7d" stroke-width="1.1">
  <line x1="98" y1="98.4" x2="443" y2="98.4"/>
  <line x1="477.2" y1="98.4" x2="822.5" y2="98.4"/>
  <line x1="460.3" y1="98" x2="460.3" y2="1205.5"/>
  <line x1="98" y1="439.1" x2="443" y2="439.1"/>
  <line x1="477.2" y1="609.1" x2="822.5" y2="609.1"/>
  <line x1="98" y1="1227.3" x2="822.5" y2="1227.3"/>
</g>

<!-- step numbers -->
<g font-size="28.2" font-weight="bold" fill="#1c1c1c" stroke="#1c1c1c" stroke-width="0.5">
  <text x="97.6" y="123.2">2</text>
  <text x="97.6" y="462.7">3</text>
  <text x="476.4" y="123.1">4</text>
  <text x="476.4" y="633.5">5</text>
</g>
<!-- tool boxes -->
<use href="#tool" x="148.8" y="128.3"/>
<use href="#tool" x="370.7" y="538.5"/>
<use href="#tool" x="752.7" y="366.7"/>
<use href="#tool" x="746.2" y="733"/>

<!-- diagrams -->
<g transform="translate(202.4 473.8)">
  <use href="#diag"/><use href="#dGray"/><use href="#bBlack"/><use href="#aGray"/><use href="#holesDark"/><use href="#bigGray"/>
  <path d="M-55 64.5 L-21.3 64.5 L-21.3 87.2 L21.7 87.2" fill="none" stroke="#8a8a8a" stroke-width="1"/>
  <line x1="-55" y1="117.2" x2="70" y2="117.2" stroke="#2e2e2e" stroke-width="1.2"/>
</g>
<g transform="translate(585.3 133.8)">
  <use href="#diag"/><use href="#dBlack"/><use href="#bGray"/><use href="#aGray"/><use href="#holesDark"/><use href="#bigGray"/>
  <line x1="30.9" y1="57" x2="30.9" y2="95" stroke="#666" stroke-width="0.8"/>
  <line x1="68.7" y1="57" x2="68.7" y2="95" stroke="#666" stroke-width="0.8"/>
  <line x1="-55" y1="117.2" x2="110.4" y2="117.2" stroke="#2e2e2e" stroke-width="1.2"/>
</g>
<g transform="translate(585.3 644.9)">
  <use href="#diag"/><use href="#dGray"/><use href="#bGray"/><use href="#aBlack"/><use href="#holesGray"/><use href="#bigDark"/>
  <line x1="-55" y1="99.2" x2="40" y2="99.2" stroke="#8a8a8a" stroke-width="0.9"/>
  <line x1="-55" y1="117.4" x2="110.4" y2="117.4" stroke="#a0a0a0" stroke-width="1.1"/>
</g>

<!-- footer -->
<g font-size="9.1" fill="#333">
  <text x="97.4" y="1248.3">2572341643 © 04-2017</text>
  <text x="97.4" y="1258.5">965.837.00.0 (01)</text>
</g>
<rect x="694.8" y="1242.9" width="10.2" height="9.8" fill="#1f86cf"/>
<text x="707.5" y="1252.7" font-size="14.3" font-weight="bold" fill="#3a3a3a">GEBERIT</text>
<text x="807.3" y="1250.7" font-size="13" font-weight="bold" fill="#222">13</text>

</svg>
</body></html>
